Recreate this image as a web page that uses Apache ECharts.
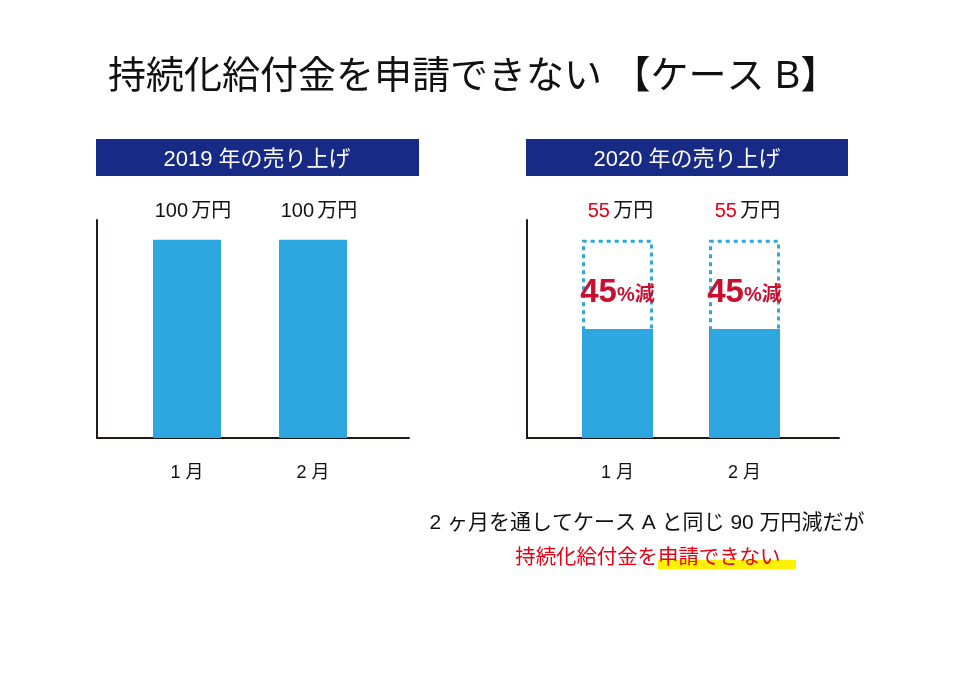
<!DOCTYPE html>
<html>
<head>
<meta charset="utf-8">
<script src="https://cdn.jsdelivr.net/npm/echarts@6/dist/echarts.min.js"></script>
<style>
html,body{margin:0;padding:0;background:#fff;}
#chart{width:970px;height:691px;}
</style>
</head>
<body>
<div id="chart"></div>
<script>
// ---- data ----
const categories = ['1 月', '2 月'];
const sales2019 = [100, 100];
const sales2020 = [55, 55];
const unit = '万円';
const mainTitle = '持続化給付金を申請できない 【ケース B】';
const panelTitles = ['2019 年の売り上げ', '2020 年の売り上げ'];
const noteLine1 = '2 ヶ月を通してケース A と同じ 90 万円減だが';
const noteLine2a = '持続化給付金を';
const noteLine2b = '申請できない';

const reduction = sales2019.map((v, i) => v - sales2020[i]);
const pct = sales2019.map((v, i) => Math.round((v - sales2020[i]) / v * 100));

const FONT = '"Liberation Sans", "Noto Sans CJK JP", sans-serif';
const BLUE = '#2ea6df';
const NAVY = '#172a85';
const AXIS = '#231815';
const YMAX = 110;

const chart = echarts.init(document.getElementById('chart'));

function frameAxes(gi) {
  return {
    x: { gridIndex: gi, type: 'value', min: 0, max: 1, axisLine: { show: true, onZero: false, lineStyle: { color: AXIS, width: 2 } }, axisTick: { show: false }, axisLabel: { show: false }, splitLine: { show: false } },
    y: { gridIndex: gi, type: 'value', min: 0, max: 1, axisLine: { show: true, onZero: false, lineStyle: { color: AXIS, width: 2 } }, axisTick: { show: false }, axisLabel: { show: false }, splitLine: { show: false } }
  };
}
function dataAxes(gi) {
  return {
    x: { gridIndex: gi, type: 'category', data: categories, axisLine: { show: false }, axisTick: { show: false },
         axisLabel: { color: '#111', fontSize: 18, fontFamily: FONT, margin: 26 } },
    y: { gridIndex: gi, type: 'value', min: 0, max: YMAX, show: false }
  };
}
const f0 = frameAxes(0), d1 = dataAxes(1), f2 = frameAxes(2), d3 = dataAxes(3);

const option = {
  backgroundColor: '#fff',
  animation: false,
  grid: [
    { left: 97, top: 220, width: 312, height: 218 },
    { left: 124, top: 220, width: 252, height: 218 },
    { left: 527, top: 220, width: 312, height: 218 },
    { left: 554, top: 220, width: 254, height: 218 }
  ],
  xAxis: [f0.x, d1.x, f2.x, d3.x],
  yAxis: [f0.y, d1.y, f2.y, d3.y],
  series: [
    {
      name: '2019', type: 'bar', xAxisIndex: 1, yAxisIndex: 1, data: sales2019, barWidth: 68,
      itemStyle: { color: BLUE },
      label: { show: true, position: 'top', distance: 18, offset: [6, 0],
        formatter: p => '{v|' + p.value + '} {u|' + unit + '}',
        rich: { v: { fontSize: 20, color: '#111', fontFamily: FONT }, u: { fontSize: 20, color: '#111', fontFamily: FONT } } }
    },
    {
      name: '2020', type: 'bar', xAxisIndex: 3, yAxisIndex: 3, data: sales2020, barWidth: 71, stack: 'y2020',
      itemStyle: { color: BLUE }
    },
    {
      name: '減少', type: 'bar', xAxisIndex: 3, yAxisIndex: 3, data: reduction, barWidth: 71, stack: 'y2020',
      itemStyle: { color: 'rgba(0,0,0,0)' },
      label: { show: true, position: 'inside', offset: [0, 8],
        formatter: p => '{n|' + pct[p.dataIndex] + '}{p|%減}',
        rich: { n: { fontSize: 33, fontWeight: 'bold', color: '#c8102e', fontFamily: FONT },
                p: { fontSize: 20, fontWeight: 'bold', color: '#c8102e', fontFamily: FONT, padding: [6, 0, 0, 0] } } }
    },
    {
      name: '2019比較', type: 'bar', xAxisIndex: 3, yAxisIndex: 3, data: sales2019, barWidth: 71, barGap: '-100%',
      itemStyle: { color: 'rgba(0,0,0,0)', borderColor: BLUE, borderWidth: 3, borderType: [4, 4] },
      label: { show: true, position: 'top', distance: 18, offset: [3, 0],
        formatter: p => '{v|' + sales2020[p.dataIndex] + '} {u|' + unit + '}',
        rich: { v: { fontSize: 20, color: '#e60012', fontFamily: FONT }, u: { fontSize: 20, color: '#111', fontFamily: FONT } } }
    }
  ],
  graphic: [
    { type: 'text', left: 108, top: 59, style: { text: mainTitle, font: '38px ' + FONT, fill: '#111' } },
    { type: 'rect', shape: { x: 96, y: 139, width: 323, height: 37 }, style: { fill: NAVY } },
    { type: 'rect', shape: { x: 526, y: 139, width: 322, height: 37 }, style: { fill: NAVY } },
    { type: 'text', style: { x: 257, y: 160, text: panelTitles[0], font: '22px ' + FONT, fill: '#fff', textAlign: 'center', textVerticalAlign: 'middle' } },
    { type: 'text', style: { x: 687, y: 160, text: panelTitles[1], font: '22px ' + FONT, fill: '#fff', textAlign: 'center', textVerticalAlign: 'middle' } },
    { type: 'text', style: { x: 647, y: 523, text: noteLine1, font: '21px ' + FONT, fill: '#111', textAlign: 'center', textVerticalAlign: 'middle' } },
    { type: 'rect', shape: { x: 658, y: 560, width: 138, height: 9 }, style: { fill: '#fff100' } },
    { type: 'text', style: { x: 658, y: 558, text: noteLine2a, font: '20.4px ' + FONT, fill: '#e60012', textAlign: 'right', textVerticalAlign: 'middle' } },
    { type: 'text', style: { x: 658, y: 558, text: noteLine2b, font: '20.4px ' + FONT, fill: '#e60012', textAlign: 'left', textVerticalAlign: 'middle' } }
  ]
};
chart.setOption(option);
</script>
</body>
</html>
